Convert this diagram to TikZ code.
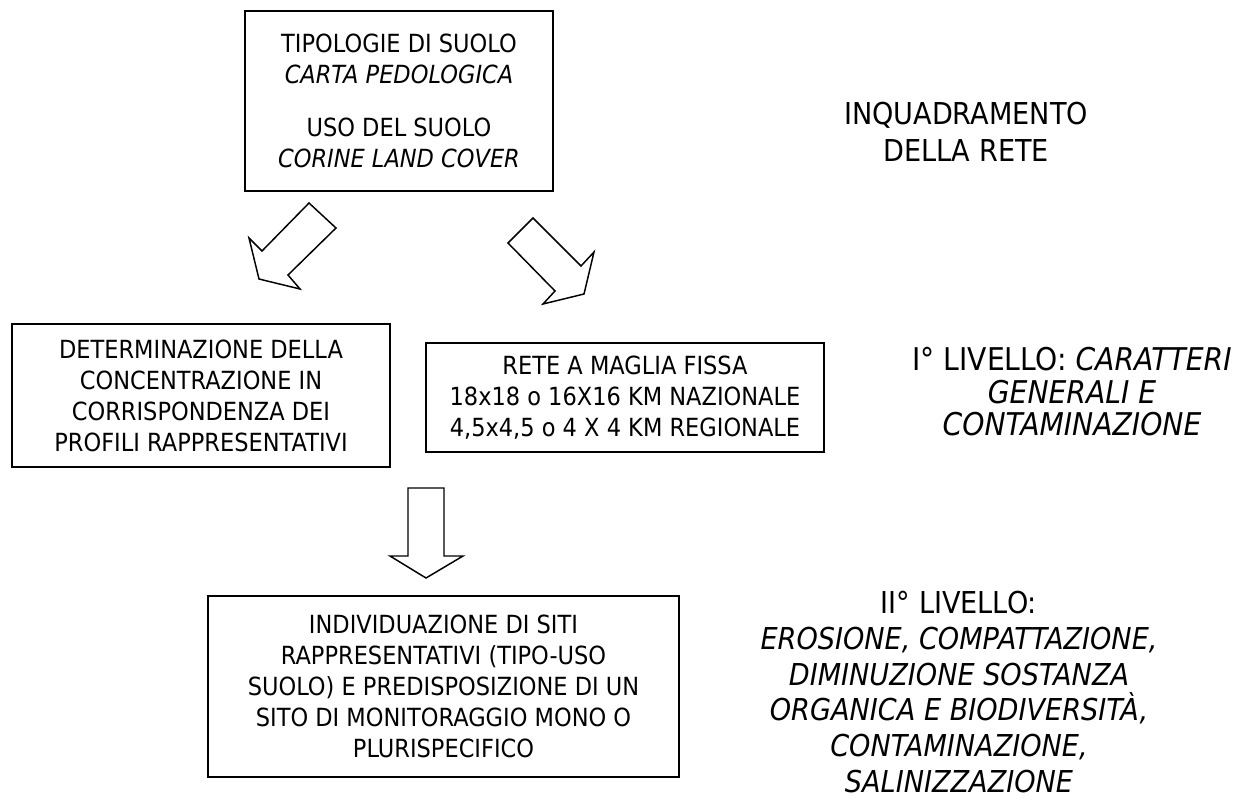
\documentclass[tikz,border=0pt]{standalone}
\usepackage{fontspec}
\setmainfont{DejaVu Sans}[FakeStretch=0.9]
\begin{document}
\begin{tikzpicture}[x=0.75pt,y=-0.75pt,
  box/.style={draw, line width=1.3pt, inner sep=0pt, align=center,
              font=\fontsize{18.75pt}{23.25pt}\selectfont},
  side/.style={inner sep=0pt, align=center},
  blockarrow/.style={draw, line width=1.1pt, line join=miter, fill=white}]
\useasboundingbox (0,0) rectangle (1241,800);

% boxes
\node[box, minimum width=231pt, minimum height=135pt] (src) at (399,101)
  {TIPOLOGIE DI SUOLO\\ \textit{CARTA PEDOLOGICA}\\[17pt]
   USO DEL SUOLO\\ \textit{CORINE LAND COVER}};
\node[box, minimum width=283.5pt, minimum height=107.25pt] (det) at (201,395.5)
  {DETERMINAZIONE DELLA\\ CONCENTRAZIONE IN\\ CORRISPONDENZA DEI\\ PROFILI RAPPRESENTATIVI};
\node[box, minimum width=298.5pt, minimum height=81.75pt] (rete) at (625,397.5)
  {RETE A MAGLIA FISSA\\ 18x18 o 16X16 KM NAZIONALE\\ 4,5x4,5 o 4 X 4 KM REGIONALE};
\node[box, minimum width=353.25pt, minimum height=135.75pt] (siti) at (443.5,686.5)
  {INDIVIDUAZIONE DI SITI\\ RAPPRESENTATIVI (TIPO-USO\\ SUOLO) E PREDISPOSIZIONE DI UN\\ SITO DI MONITORAGGIO MONO O\\ PLURISPECIFICO};

% side labels
\node[side, font=\fontsize{22.6pt}{27.75pt}\selectfont] (lab0) at (966,132)
  {INQUADRAMENTO\\ DELLA RETE};
\node[side, font=\fontsize{23.5pt}{24.4pt}\selectfont] (lab1) at (1072,392)
  {I° LIVELLO: \textit{CARATTERI}\\ \textit{GENERALI E}\\ \textit{CONTAMINAZIONE}};
\node[side, font=\fontsize{22.6pt}{26.8pt}\selectfont] (lab2) at (959,692)
  {II° LIVELLO:\\ \textit{EROSIONE, COMPATTAZIONE,}\\ \textit{DIMINUZIONE SOSTANZA}\\
   \textit{ORGANICA E BIODIVERSITÀ,}\\ \textit{CONTAMINAZIONE,}\\ \textit{SALINIZZAZIONE}};

% block arrows
\draw[blockarrow] (309,203) -- (336,228) -- (288,275) -- (300,289) -- (259,279)
  -- (249,238) -- (262,251) -- cycle;
\draw[blockarrow] (533,218) -- (508,243) -- (555,291) -- (543,304) -- (584,294)
  -- (594,252) -- (581,266) -- cycle;
\draw[blockarrow] (408,488) -- (444,488) -- (444,556) -- (463,556) -- (426,578)
  -- (390,556) -- (408,556) -- cycle;
\end{tikzpicture}
\end{document}
